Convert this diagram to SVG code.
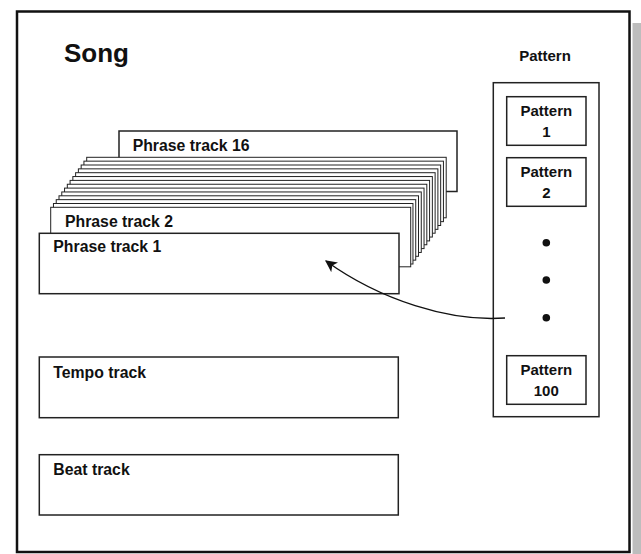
<svg xmlns="http://www.w3.org/2000/svg" width="641" height="554" viewBox="0 0 641 554">
<style>
text{font-family:"Liberation Sans",Arial,sans-serif;font-weight:bold;fill:#111;}
.lbl{font-size:15px;}
.trk{font-size:15.8px;}
.mid{text-anchor:middle;}
.box{fill:#fff;stroke:#222;stroke-width:1.5;}
.stk{fill:#fff;stroke:#222;stroke-width:1;}
.frame{fill:#fff;stroke:#111;stroke-width:2.5;}
.dot{fill:#111;}
</style>
<defs>
<marker id="ah" viewBox="0 0 10 10" refX="9" refY="5" markerWidth="12" markerHeight="12" markerUnits="userSpaceOnUse" orient="auto">
<path d="M0,0 L10,5 L0,10 L2.5,5 z" fill="#111"/>
</marker>
</defs>
<rect x="632.5" y="23" width="10" height="533" fill="#bdbdbd"/>
<rect id="song-frame" class="frame" x="17" y="11.5" width="612.5" height="540.5"/>
<g id="song-title"><text x="64" y="62" style="font-size:26px">Song</text></g>
<g id="pattern-header"><text class="lbl mid" x="545" y="61">Pattern</text></g>
<g id="phrase-track-16">
<rect class="box" x="119" y="131" width="338" height="60.5" stroke-width="1.2"/>
<text class="trk" x="132.7" y="151">Phrase track 16</text>
</g>
<g id="phrase-tracks-3-15">
<rect class="stk" x="86.7" y="157.3" width="359.5" height="60.5"/>
<rect class="stk" x="83.93" y="161.15" width="359.5" height="60.5"/>
<rect class="stk" x="81.16" y="165" width="359.5" height="60.5"/>
<rect class="stk" x="78.39" y="168.85" width="359.5" height="60.5"/>
<rect class="stk" x="75.62" y="172.7" width="359.5" height="60.5"/>
<rect class="stk" x="72.85" y="176.55" width="359.5" height="60.5"/>
<rect class="stk" x="70.08" y="180.4" width="359.5" height="60.5"/>
<rect class="stk" x="67.31" y="184.25" width="359.5" height="60.5"/>
<rect class="stk" x="64.54" y="188.1" width="359.5" height="60.5"/>
<rect class="stk" x="61.77" y="191.95" width="359.5" height="60.5"/>
<rect class="stk" x="59" y="195.8" width="359.5" height="60.5"/>
<rect class="stk" x="56.23" y="199.65" width="359.5" height="60.5"/>
<rect class="stk" x="53.46" y="203.5" width="359.5" height="60.5"/>
</g>
<g id="phrase-track-2">
<rect class="stk" x="50.7" y="207.3" width="360" height="59.5" stroke-width="1.2"/>
<text class="trk" x="65" y="226.7">Phrase track 2</text>
</g>
<g id="phrase-track-1">
<rect class="box" x="39.3" y="233.3" width="359.7" height="60.4" stroke-width="1.2"/>
<text class="trk" x="53.3" y="251.7">Phrase track 1</text>
</g>
<g id="tempo-track">
<rect class="box" x="39.3" y="357" width="359" height="60.7"/>
<text class="trk" x="53.3" y="377.7">Tempo track</text>
</g>
<g id="beat-track">
<rect class="box" x="39.3" y="454.7" width="359" height="60.3"/>
<text class="trk" x="53.3" y="475">Beat track</text>
</g>
<g id="pattern-container">
<rect class="box" x="493.3" y="82.7" width="105.7" height="334" stroke-width="1.3"/>
</g>
<g id="pattern-1">
<rect class="box" x="506.7" y="96.7" width="79.3" height="48.6"/>
<text class="lbl mid" x="546.3" y="115.7">Pattern</text>
<text class="lbl mid" x="546.3" y="136.7">1</text>
</g>
<g id="pattern-2">
<rect class="box" x="506.7" y="157.7" width="79.3" height="48.6"/>
<text class="lbl mid" x="546.3" y="176.7">Pattern</text>
<text class="lbl mid" x="546.3" y="197.7">2</text>
</g>
<g id="pattern-dots">
<circle class="dot" cx="546.3" cy="242.7" r="3.8"/>
<circle class="dot" cx="546.3" cy="280" r="3.8"/>
<circle class="dot" cx="546.3" cy="317.7" r="3.8"/>
</g>
<g id="pattern-100">
<rect class="box" x="506.7" y="355.7" width="79.3" height="48.6"/>
<text class="lbl mid" x="546.3" y="374.5">Pattern</text>
<text class="lbl mid" x="546.3" y="396">100</text>
</g>
<g id="connectors">
<path d="M505,318 C450,322 380,300 326,261" fill="none" stroke="#111" stroke-width="1.4" marker-end="url(#ah)"/>
</g>
</svg>
